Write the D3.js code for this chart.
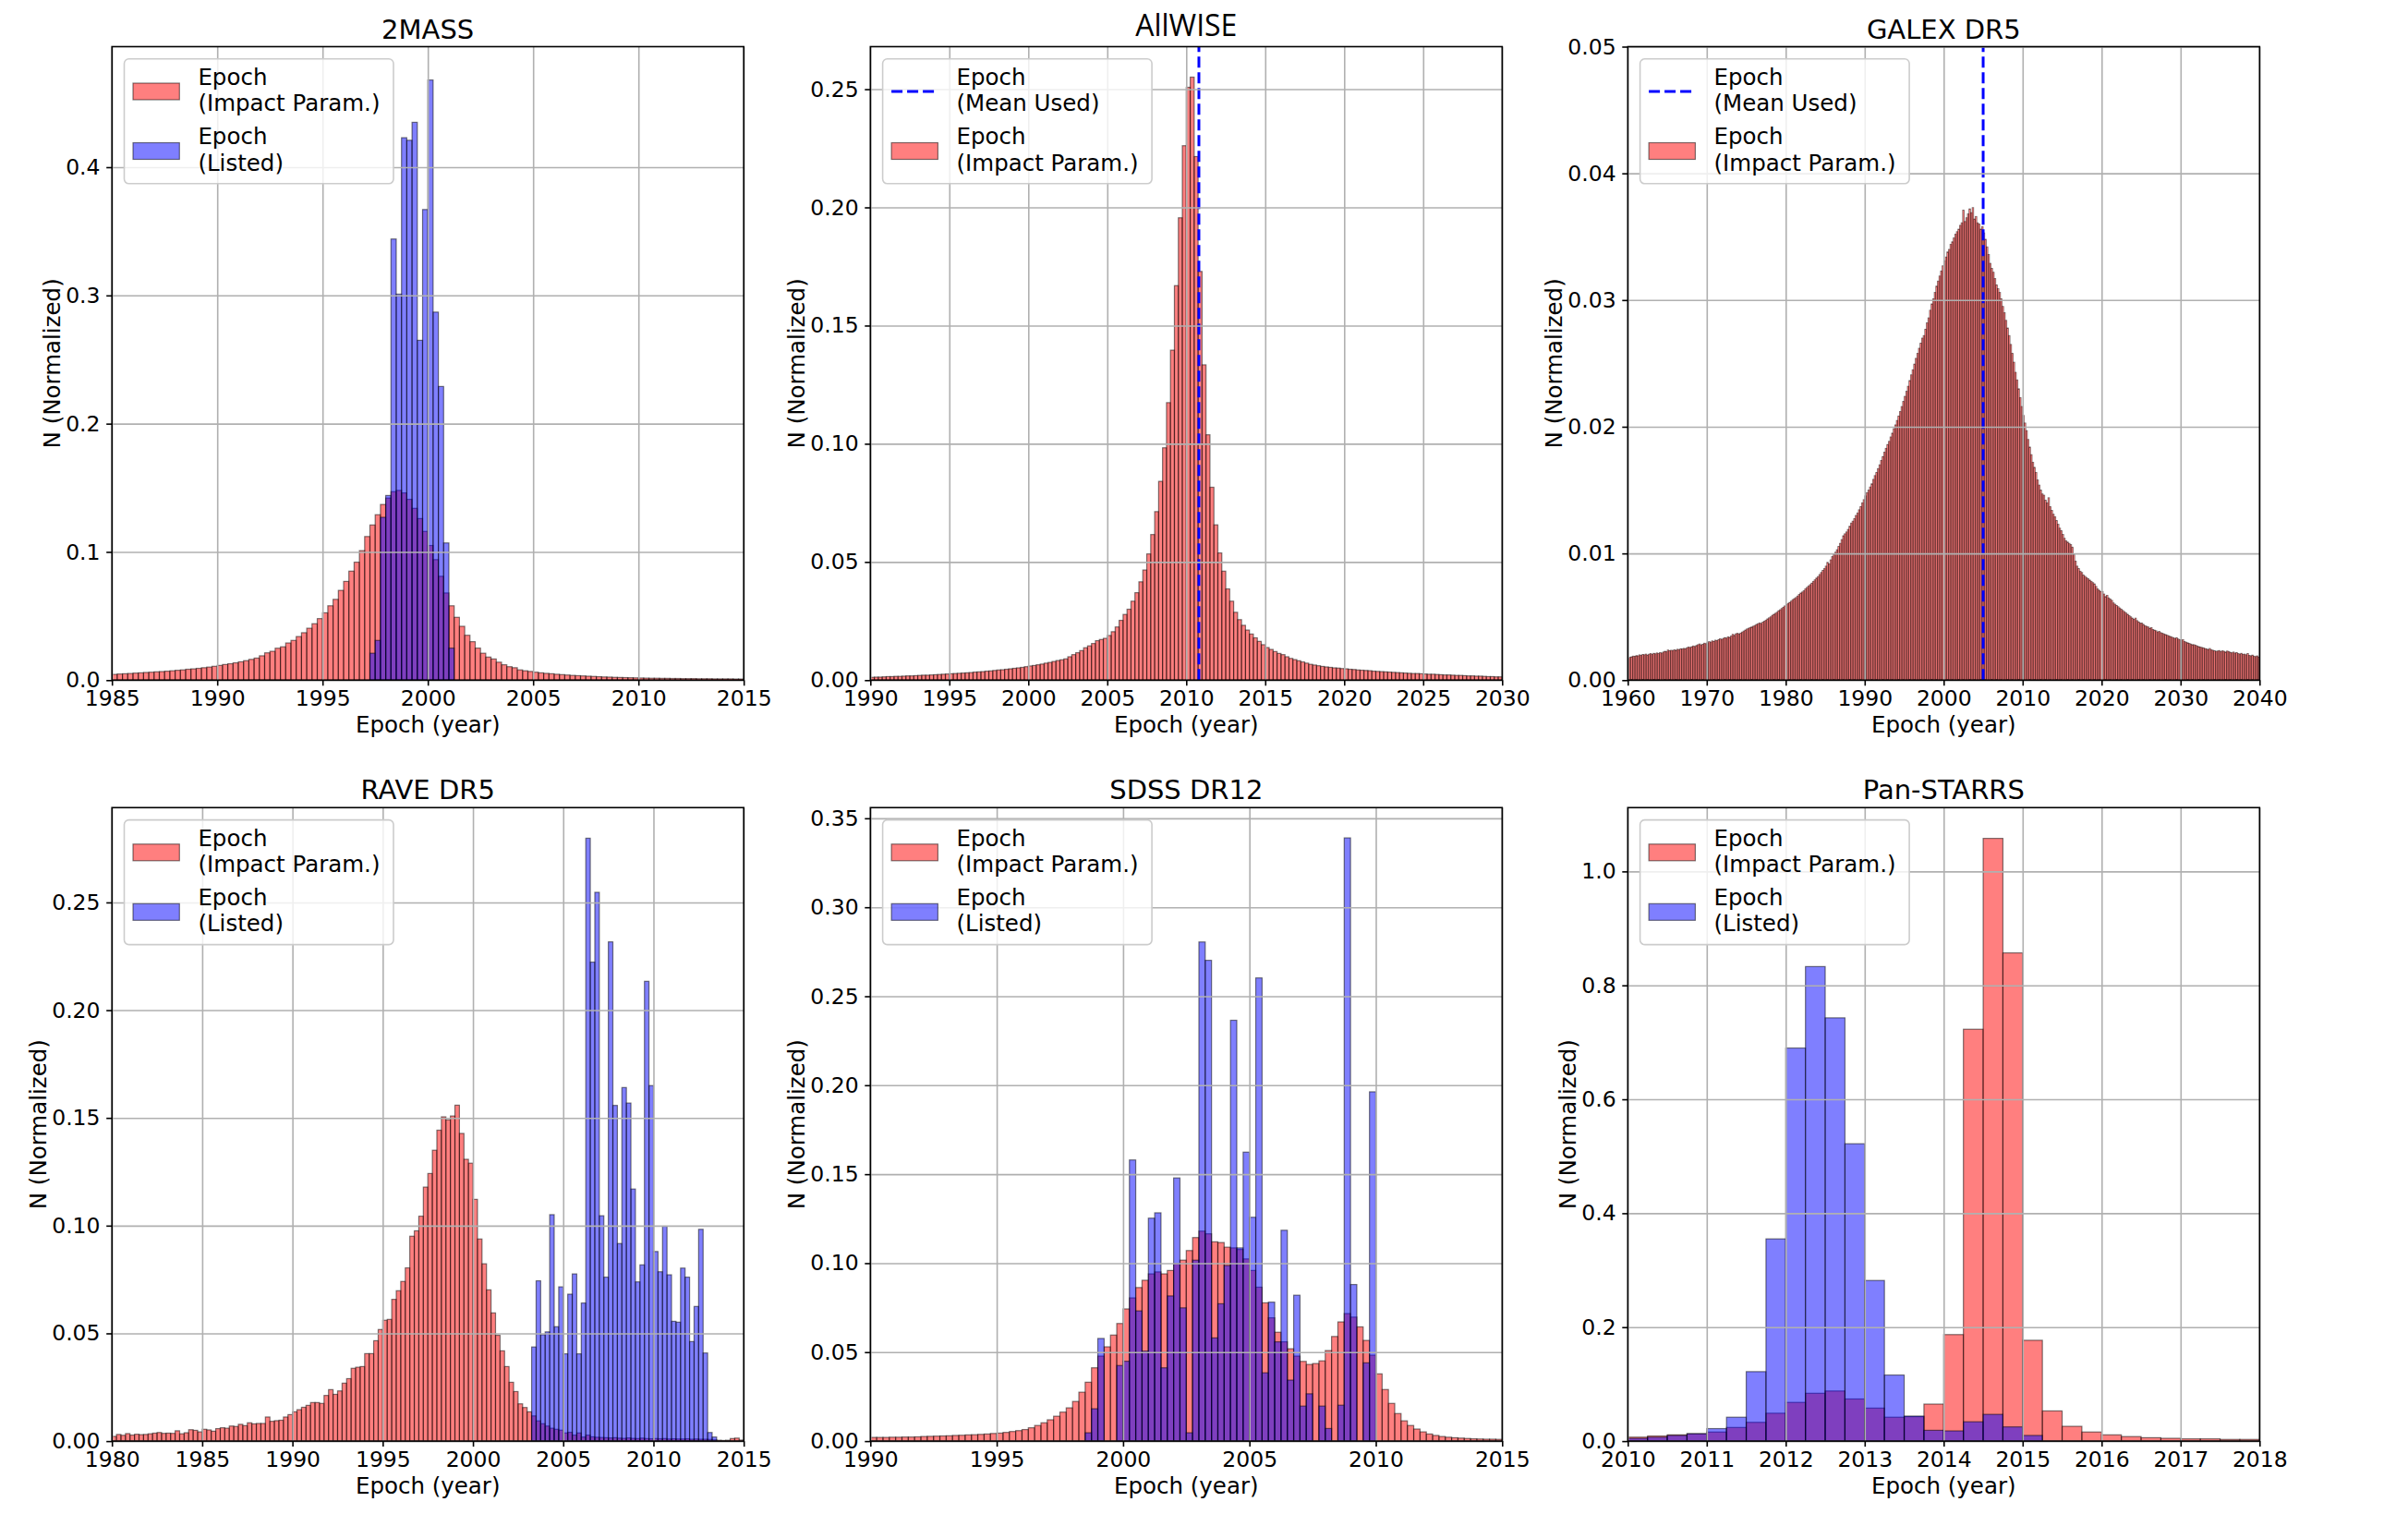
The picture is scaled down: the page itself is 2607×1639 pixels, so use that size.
<!DOCTYPE html>
<html><head><meta charset="utf-8">
<script src="https://cdn.jsdelivr.net/npm/d3@7"></script>
<style>body{margin:0;background:#fff}svg{display:block}</style>
</head><body>
<svg id="chart" width="2607" height="1639"></svg>
<script>
// ---------------- DATA ----------------
// bin definitions: [first bin start (year), bin width (year)]
const twomassImpactBins = [1985, 0.25];
const twomassImpact = [
.0045,.0048,.0050,.0052, .0055,.0057,.0060,.0062, .0065,.0067,.0070,.0073, .0077,.0080,.0085,.0088,
.0092,.0097,.0102,.0108, .0115,.0122,.0128,.0135, .0143,.0152,.0162,.0172, .0190,.0213,.0225,.0249,
.0260,.0290,.0310,.0340, .0370,.0405,.0440,.0480, .0525,.0580,.0630,.0700, .0770,.0850,.0920,.1010,
.1120,.1210,.1290,.1370, .1420,.1470,.1480,.1460, .1410,.1340,.1260,.1160, .1050,.0940,.0810,.0680,
.0580,.0490,.0420,.0350, .0300,.0250,.0210,.0180, .0165,.0140,.0120,.0105, .0097,.0080,.0073,.0068,
.0062,.0057,.0053,.0050, .0046,.0043,.0040,.0037, .0035,.0033,.0031,.0029, .0027,.0025,.0024,.0022,
.0021,.0020,.0019,.0018, .0017,.0016,.0015,.0015, .0014,.0014,.0013,.0013, .0012,.0012,.0012,.0011,
.0011,.0011,.0010,.0010, .0010,.0010,.0009,.0009];
const twomassListedBins = [1997.25, 0.25];
const twomassListed = [.021,.031,.127,.144,.344,.301,.423,.421,.435,.265,.367,.468,.287,.229,.107,.025];

const allwiseImpactBins = [1990, 0.25];
const allwiseImpact = [
.0012,.0013,.0013,.0014, .0015,.0015,.0016,.0016, .0017,.0018,.0018,.0019, .0020,.0021,.0021,.0022,
.0023,.0024,.0025,.0026, .0027,.0028,.0029,.0030, .0031,.0032,.0034,.0035, .0036,.0038,.0039,.0041,
.0043,.0044,.0046,.0048, .0050,.0052,.0054,.0057, .0060,.0062,.0065,.0068, .0072,.0075,.0079,.0083,
.0086,.0090,.0099,.0108, .0116,.0125,.0137,.0145, .0155,.0167,.0172,.0177, .0189,.0205,.0225,.0253,
.0278,.0300,.0334,.0370, .0416,.0466,.0534,.0616, .0713,.0841,.0983,.1174, .1396,.1669,.1956,.2261,
.2508,.2551,.2215,.1729, .1334,.1038,.0816,.0657, .0538,.0461,.0386,.0334, .0287,.0256,.0232,.0212,
.0195,.0179,.0164,.0150, .0138,.0130,.0121,.0113, .0108,.0099,.0092,.0087, .0082,.0077,.0072,.0067,
.0064,.0061,.0058,.0056, .0054,.0052,.0051,.0049, .0048,.0046,.0045,.0043, .0042,.0041,.0040,.0038,
.0037,.0036,.0035,.0034, .0033,.0032,.0031,.0030, .0029,.0028,.0028,.0027, .0026,.0025,.0025,.0024,
.0023,.0022,.0022,.0021, .0020,.0020,.0019,.0018, .0018,.0017,.0017,.0016, .0015,.0015,.0014,.0014];
const allwiseMean = 2010.8;

const galexImpactBins = [1960, 0.2];
const galexImpact = [
.00172,.00181,.00185,.00190,.00188, .00194,.00192,.00200,.00196,.00203, .00200,.00206,.00198,.00205,.00210,
.00204,.00212,.00208,.00215,.00210, .00218,.00214,.00222,.00228,.00226, .00238,.00232,.00236,.00234,.00240,
.00236,.00244,.00241,.00248,.00246, .00251,.00248,.00256,.00262,.00258, .00264,.00270,.00266,.00274,.00280,
.00286,.00278,.00284,.00292,.00288, .00296,.00304,.00300,.00310,.00306, .00316,.00312,.00320,.00326,.00322,
.00330,.00336,.00332,.00342,.00338, .00348,.00362,.00354,.00366,.00370, .00364,.00372,.00380,.00388,.00396,
.00404,.00410,.00416,.00420,.00426, .00432,.00440,.00446,.00452,.00448, .00458,.00466,.00474,.00484,.00492,
.00500,.00512,.00520,.00528,.00536, .00548,.00556,.00566,.00576,.00586, .00596,.00606,.00614,.00624,.00636,
.00644,.00652,.00664,.00676,.00688, .00696,.00706,.00720,.00732,.00744, .00754,.00766,.00780,.00792,.00806,
.00818,.00834,.00850,.00866,.00880, .00900,.00930,.00918,.00950,.00975, .00990,.01010,.01030,.01055,.01080,
.01110,.01140,.01155,.01170,.01190, .01215,.01240,.01255,.01275,.01300, .01320,.01345,.01370,.01400,.01425,
.01455,.01480,.01500,.01525,.01550, .01585,.01615,.01640,.01670,.01700, .01735,.01765,.01800,.01830,.01860,
.01885,.01920,.01950,.01985,.02015, .02050,.02085,.02120,.02160,.02200, .02240,.02280,.02320,.02365,.02410,
.02450,.02495,.02540,.02580,.02620, .02660,.02700,.02720,.02770,.02820, .02860,.02920,.02970,.03010,.03060,
.03110,.03150,.03190,.03230,.03270, .03310,.03340,.03380,.03400,.03440, .03460,.03490,.03520,.03540,.03560,
.03590,.03610,.03710,.03620,.03650, .03680,.03720,.03690,.03730,.03640, .03660,.03610,.03600,.03560,.03580,
.03530,.03480,.03420,.03360,.03290, .03250,.03220,.03170,.03120,.03090, .03060,.03010,.02950,.02900,.02840,
.02780,.02720,.02650,.02580,.02510, .02430,.02370,.02300,.02230,.02160, .02090,.02030,.01970,.01900,.01840,
.01780,.01720,.01680,.01640,.01580, .01540,.01500,.01470,.01460,.01420, .01400,.01440,.01370,.01340,.01310,
.01290,.01260,.01230,.01200,.01180, .01150,.01120,.01100,.01090,.01080, .01070,.01050,.00990,.00940,.00900,
.00880,.00860,.00850,.00830,.00820, .00810,.00800,.00790,.00780,.00770, .00760,.00740,.00720,.00710,.00700,
.00700,.00680,.00660,.00670,.00650, .00640,.00630,.00610,.00600,.00590, .00580,.00570,.00560,.00550,.00540,
.00530,.00520,.00510,.00500,.00490, .00480,.00490,.00470,.00460,.00450, .00450,.00440,.00430,.00425,.00420,
.00410,.00415,.00400,.00395,.00390, .00380,.00385,.00375,.00370,.00365, .00360,.00355,.00350,.00345,.00340,
.00335,.00330,.00335,.00325,.00320, .00315,.00320,.00305,.00300,.00295, .00290,.00285,.00280,.00280,.00275,
.00270,.00265,.00262,.00258,.00255, .00250,.00246,.00242,.00250,.00240, .00236,.00232,.00228,.00230,.00234,
.00226,.00232,.00228,.00222,.00230, .00226,.00220,.00216,.00222,.00214, .00218,.00210,.00206,.00212,.00204,
.00206,.00200,.00210,.00196,.00192, .00198,.00190,.00186,.00192,.00182];
const galexMean = 2005.0;

const raveImpactBins = [1980, 0.25];
const raveImpact = [
.0022,.0031,.0027,.0035, .0028,.0032,.0030,.0031, .0034,.0037,.0040,.0036, .0037,.0036,.0048,.0034,
.0039,.0053,.0050,.0043, .0055,.0052,.0046,.0058, .0062,.0060,.0070,.0068, .0078,.0072,.0085,.0080,
.0082,.0082,.0112,.0092, .0095,.0097,.0112,.0123, .0136,.0146,.0157,.0166, .0179,.0179,.0175,.0212,
.0239,.0217,.0233,.0269, .0290,.0338,.0343,.0346, .0406,.0406,.0466,.0518, .0561,.0565,.0658,.0698,
.0741,.0804,.0951,.0976, .1044,.1179,.1242,.1350, .1443,.1505,.1491,.1509, .1559,.1428,.1308,.1290,
.1122,.0938,.0823,.0702, .0595,.0491,.0419,.0346, .0273,.0230,.0173,.0156, .0136,.0117,.0094,.0081,
.0070,.0060,.0055,.0051, .0038,.0041,.0028,.0038, .0019,.0028,.0020,.0018, .0017,.0016,.0015,.0016,
.0014,.0013,.0015,.0013, .0012,.0014,.0012,.0011, .0012,.0011,.0012,.0010, .0011,.0010,.0010,.0011,
.0009,.0010,.0009,.0009, .0008,.0006,.0004,.0003, .0004,.0012,.0014,.0005];
const raveListedBins = [2003.25, 0.25];
const raveListed = [
.0437,.0744,.0494,.0507,.1051,.0531,.0716,.0405,.0682,.0776,.0405,.0641,.2798,.2223,.2547,.1046,
.0761,.2317,.1558,.0917,.1641,.1569,.1170,.0739,.0818,.2134,.1650,.0880,.0786,.0997,.0772,.0556,
.0552,.0803,.0761,.0462,.0625,.0983,.0409,.0040,.0019];

const sdssImpactBins = [1990, 0.25];
const sdssImpact = [
.0021,.0021,.0021,.0022, .0022,.0023,.0023,.0024, .0026,.0027,.0028,.0029, .0030,.0032,.0033,.0035,
.0036,.0038,.0040,.0043, .0045,.0049,.0054,.0059, .0065,.0075,.0088,.0103, .0120,.0140,.0163,.0187,
.0223,.0275,.0331,.0412, .0478,.0530,.0596,.0661, .0743,.0805,.0863,.0904, .0940,.0951,.0940,.0959,
.0998,.1017,.1071,.1144, .1180,.1165,.1120,.1116, .1090,.1086,.1077,.1024, .0959,.0865,.0777,.0693,
.0612,.0558,.0519,.0478, .0448,.0431,.0436,.0451, .0509,.0588,.0670,.0717, .0697,.0642,.0566,.0483,
.0378,.0290,.0212,.0155, .0114,.0088,.0068,.0052, .0040,.0032,.0026,.0022, .0019,.0017,.0015,.0013,
.0012,.0011,.0011,.0010];
const sdssListedBins = [1998.5, 0.25];
const sdssListed = [
.0047,.0182,.0577,0,0,.0425, .0449,.1580,.0732,.0506, .1253,.1283,.0412,.0816, .1479,.0749,.0047,.1017,
.2805,.2702,.0580,.0772, .0987,.2365,.1086,.1624, .1258,.2603,.0384,.0781, .0558,.1185,.0343,.0820,
.0197,.0266,0,.0197, .0071,0,.0202,.3390, .0880,0,.0440,.1963];

const panstarrsImpactBins = [2010, 0.25];
const panstarrsImpact = [
.007,.009,.011,.013, .016,.024,.033,.049, .068,.084,.088,.074, .058,.042,.043,.065,
.187,.723,1.058,.857, .177,.053,.026,.016, .011,.008,.006,.005, .004,.004,.003,.003];
const panstarrsListedBins = [2010, 0.25];
const panstarrsListed = [
.005,.007,.010,.013, .022,.042,.122,.355, .690,.833,.743,.522, .282,.116,.044,.019,
.018,.034,.047,.025, .010];

// axis ticks
const titles = ["2MASS","AllWISE","GALEX DR5","RAVE DR5","SDSS DR12","Pan-STARRS"];
const xDomains = [[1985,2015],[1990,2030],[1960,2040],[1980,2015],[1990,2015],[2010,2018]];
const xTickLists = [d3.range(1985,2016,5), d3.range(1990,2031,5), d3.range(1960,2041,10),
                    d3.range(1980,2016,5), d3.range(1990,2016,5), d3.range(2010,2019,1)];
const yMaxes = [0.494, 0.268, 0.05, 0.294, 0.356, 1.112];
const yTickLists = [[0,0.1,0.2,0.3,0.4],[0,0.05,0.1,0.15,0.2,0.25],[0,0.01,0.02,0.03,0.04,0.05],
                    [0,0.05,0.1,0.15,0.2,0.25],[0,0.05,0.1,0.15,0.2,0.25,0.3,0.35],[0,0.2,0.4,0.6,0.8,1.0]];
const yFormats = ['.1f','.2f','.2f','.2f','.2f','.1f'];
const labelImpact = ["Epoch","(Impact Param.)"];
const labelListed = ["Epoch","(Listed)"];
const labelMean = ["Epoch","(Mean Used)"];

// ---------------- DRAWING ----------------
const W = 2607, H = 1639;
const FONT = "'DejaVu Sans', 'Liberation Sans', sans-serif";
const RED = "rgba(255,0,0,0.5)", BLUE = "rgba(0,0,255,0.5)", EDGE = "rgba(0,0,0,0.5)";
const svg = d3.select('#chart');
svg.append('rect').attr('width', W).attr('height', H).attr('fill', '#fff');

const colLeft = [121.2, 942.3, 1762.3], rowTop = [50.5, 874.3];
const PW = 684, PH = 685.8;

const panels = [
  {series:[{bins:twomassImpactBins, values:twomassImpact, fill:RED},{bins:twomassListedBins, values:twomassListed, fill:BLUE}],
   legend:[{type:'patch', fill:RED, label:labelImpact},{type:'patch', fill:BLUE, label:labelListed}]},
  {series:[{bins:allwiseImpactBins, values:allwiseImpact, fill:RED}], mean: allwiseMean,
   legend:[{type:'line', label:labelMean},{type:'patch', fill:RED, label:labelImpact}]},
  {series:[{bins:galexImpactBins, values:galexImpact, fill:RED, sw:0.8}], mean: galexMean,
   legend:[{type:'line', label:labelMean},{type:'patch', fill:RED, label:labelImpact}]},
  {series:[{bins:raveImpactBins, values:raveImpact, fill:RED},{bins:raveListedBins, values:raveListed, fill:BLUE}],
   legend:[{type:'patch', fill:RED, label:labelImpact},{type:'patch', fill:BLUE, label:labelListed}]},
  {series:[{bins:sdssImpactBins, values:sdssImpact, fill:RED},{bins:sdssListedBins, values:sdssListed, fill:BLUE}],
   legend:[{type:'patch', fill:RED, label:labelImpact},{type:'patch', fill:BLUE, label:labelListed}]},
  {series:[{bins:panstarrsImpactBins, values:panstarrsImpact, fill:RED},{bins:panstarrsListedBins, values:panstarrsListed, fill:BLUE}],
   legend:[{type:'patch', fill:RED, label:labelImpact},{type:'patch', fill:BLUE, label:labelListed}]}
];

panels.forEach((p, k) => {
  const left = colLeft[k % 3], top = rowTop[Math.floor(k / 3)];
  const g = svg.append('g').attr('transform', `translate(${left},${top})`);
  const x = d3.scaleLinear().domain(xDomains[k]).range([0, PW]);
  const y = d3.scaleLinear().domain([0, yMaxes[k]]).range([PH, 0]);
  const cid = 'clip' + k;
  g.append('clipPath').attr('id', cid).append('rect').attr('width', PW).attr('height', PH);
  const plot = g.append('g').attr('clip-path', `url(#${cid})`);

  // bars
  p.series.forEach(s => {
    const [start, w] = s.bins;
    const data = s.values.map((v, i) => ({x0: start + i * w, x1: start + (i + 1) * w, v})).filter(d => d.v > 0);
    plot.append('g').selectAll('rect').data(data).join('rect')
      .attr('x', d => x(d.x0)).attr('width', d => x(d.x1) - x(d.x0))
      .attr('y', d => y(d.v)).attr('height', d => y(0) - y(d.v))
      .attr('fill', s.fill).attr('stroke', EDGE).attr('stroke-width', s.sw || 1.2);
  });

  // grid (above bars, like matplotlib)
  const gx = g.append('g').attr('transform', `translate(0,${PH})`)
    .call(d3.axisBottom(x).tickValues(xTickLists[k]).tickSize(-PH).tickFormat(''));
  gx.select('.domain').remove();
  gx.selectAll('line').attr('stroke', '#b0b0b0').attr('stroke-width', 1.6);
  const gy = g.append('g').call(d3.axisLeft(y).tickValues(yTickLists[k]).tickSize(-PW).tickFormat(''));
  gy.select('.domain').remove();
  gy.selectAll('line').attr('stroke', '#b0b0b0').attr('stroke-width', 1.6);

  // mean line
  if (p.mean !== undefined) {
    plot.append('line').attr('x1', x(p.mean)).attr('x2', x(p.mean)).attr('y1', y(0)).attr('y2', y(yMaxes[k]))
      .attr('stroke', '#0000ff').attr('stroke-width', 3).attr('stroke-dasharray', '12,5');
  }

  // spines
  g.append('rect').attr('width', PW).attr('height', PH).attr('fill', 'none').attr('stroke', '#000').attr('stroke-width', 1.6);

  // axes
  const ax = g.append('g').attr('transform', `translate(0,${PH})`)
    .call(d3.axisBottom(x).tickValues(xTickLists[k]).tickFormat(d3.format('d')).tickSize(6).tickSizeOuter(0).tickPadding(5.5));
  ax.select('.domain').remove();
  ax.selectAll('line').attr('stroke', '#000').attr('stroke-width', 1.6);
  ax.selectAll('text').attr('font-family', FONT).attr('font-size', 23.5).attr('fill', '#000');
  const ay = g.append('g')
    .call(d3.axisLeft(y).tickValues(yTickLists[k]).tickFormat(d3.format(yFormats[k])).tickSize(6).tickSizeOuter(0).tickPadding(6.7));
  ay.select('.domain').remove();
  ay.selectAll('line').attr('stroke', '#000').attr('stroke-width', 1.6);
  ay.selectAll('text').attr('font-family', FONT).attr('font-size', 23.5).attr('fill', '#000');

  // axis labels
  g.append('text').attr('x', PW / 2).attr('y', PH + 57).attr('text-anchor', 'middle')
    .attr('font-family', FONT).attr('font-size', 24.5).text('Epoch (year)');
  const tw = d3.max(ay.selectAll('text').nodes(), n => n.getComputedTextLength());
  const labX = -12.7 - tw - 15;
  g.append('text').attr('transform', `translate(${labX},${PH / 2}) rotate(-90)`)
    .attr('text-anchor', 'middle').attr('dominant-baseline', 'central')
    .attr('font-family', FONT).attr('font-size', 24.5).text('N (Normalized)');

  // title
  if (titles[k] === 'AllWISE') {
    g.append('text').attr('x', PW / 2).attr('y', -12).attr('text-anchor', 'middle')
      .attr('font-family', "'Open Sans', sans-serif").attr('font-size', 32).text(titles[k]);
  } else {
    g.append('text').attr('x', PW / 2).attr('y', -9).attr('text-anchor', 'middle')
      .attr('font-family', FONT).attr('font-size', 29).text(titles[k]);
  }

  // legend
  const lg = g.append('g');
  lg.append('rect').attr('x', 13.3).attr('y', 13.3).attr('width', 291.5).attr('height', 135)
    .attr('rx', 5).attr('fill', 'rgba(255,255,255,0.8)').attr('stroke', '#cccccc').attr('stroke-width', 1.6);
  p.legend.forEach((e, i) => {
    const cy = 48.5 + i * 64.5;
    if (e.type === 'patch') {
      lg.append('rect').attr('x', 22.8).attr('y', cy - 9).attr('width', 50.3).attr('height', 18)
        .attr('fill', e.fill).attr('stroke', EDGE).attr('stroke-width', 1.2);
    } else {
      lg.append('line').attr('x1', 22.8).attr('x2', 73.1).attr('y1', cy).attr('y2', cy)
        .attr('stroke', '#0000ff').attr('stroke-width', 3).attr('stroke-dasharray', '12,5');
    }
    e.label.forEach((t, j) => {
      lg.append('text').attr('x', 93.2).attr('y', cy - 7.2 + j * 28.2)
        .attr('font-family', FONT).attr('font-size', 24.5).text(t);
    });
  });
});
</script>
</body></html>
